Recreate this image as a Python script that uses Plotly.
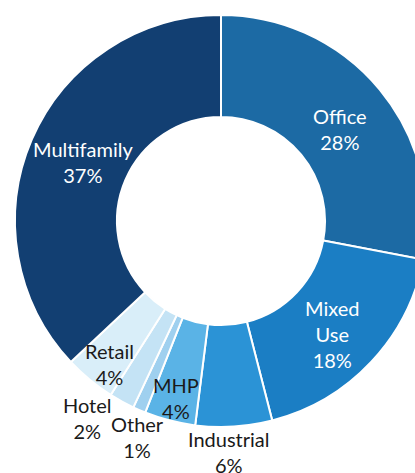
import plotly.graph_objects as go

# Data (clockwise from 12 o'clock)
labels = ["Office", "Mixed Use", "Industrial", "MHP", "Other", "Hotel", "Retail", "Multifamily"]
values = [28, 18, 6, 4, 1, 2, 4, 37]
colors = ["#1c6aa4", "#1b7ec4", "#2b93d6", "#5ab3e6", "#9fd0ef", "#c4e3f5", "#d9eef9", "#123f72"]

W, H = 430, 473
FONT = "Lato, 'Open Sans', sans-serif"

fig = go.Figure(go.Pie(
    labels=labels,
    values=values,
    textinfo="none",
    marker=dict(colors=colors, line=dict(color="white", width=2)),
    hole=0.505,
    sort=False,
    direction="clockwise",
    rotation=0,
    domain=dict(x=[15 / W, 427 / W], y=[1 - 427 / H, 1 - 15 / H]),
    showlegend=False,
    hoverinfo="label+percent",
))

# label placement (pixel centres of each label block) and text colour
label_pos = {
    "Office": (340, 129, "white"),
    "Mixed Use": (332, 334, "white"),
    "Multifamily": (83, 162, "white"),
    "Retail": (109, 364, "#1a1a1a"),
    "Hotel": (87, 418, "#1a1a1a"),
    "Other": (137, 437, "#1a1a1a"),
    "MHP": (176, 398, "#1a1a1a"),
    "Industrial": (229, 452, "#1a1a1a"),
}
annotations = []
for lab, v in zip(labels, values):
    px, py, col = label_pos[lab]
    annotations.append(dict(
        text=lab.replace(" ", "<br>") + f"<br>{v}%", x=px / W, y=1 - py / H,
        xref="paper", yref="paper", showarrow=False,
        xanchor="center", yanchor="middle",
        font=dict(family=FONT, size=20, color=col),
    ))

fig.update_layout(
    width=W, height=H,
    margin=dict(l=0, r=0, t=0, b=0),
    paper_bgcolor="white",
    plot_bgcolor="white",
    annotations=annotations,
)

fig.write_html(
    "out.html",
    config={"displayModeBar": False},
    post_script="document.body.style.margin='0';document.body.style.overflow='hidden';",
)
